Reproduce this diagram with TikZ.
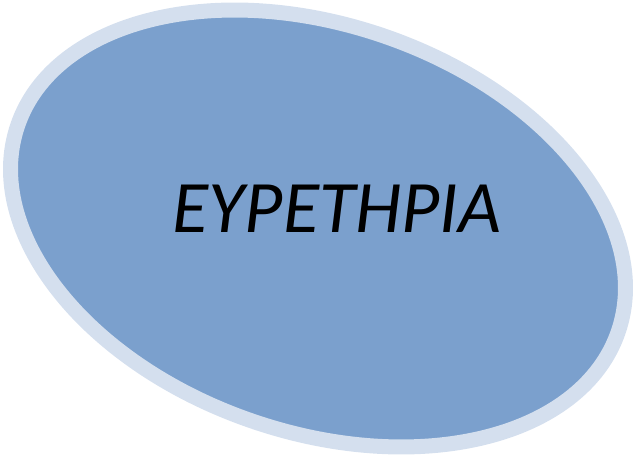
\documentclass[tikz,border=0pt]{standalone}
\usepackage{fontspec}
\setmainfont{Carlito}
\usepackage{tikz}
\usetikzlibrary{shapes.geometric}
\definecolor{myfill}{RGB}{123,160,205}
\definecolor{myrim}{RGB}{212,223,238}
\tikzset{
  blob/.style={ellipse, draw=myrim, fill=myfill, line width=15pt,
    minimum width=635pt, minimum height=407pt, inner sep=0pt},
  title/.style={font=\fontsize{74}{80}\selectfont\itshape, text=black,
    inner sep=0pt}
}
\begin{document}
\begin{tikzpicture}[x=1pt, y=1pt]
  \useasboundingbox (0,0) rectangle (633,455);
  % Tilted ellipse
  \node[blob, rotate=-19] (oval) at (318,226.5) {};
  % Label
  \node[title, anchor=base] (label) at (337,222) {ΕΥΡΕΤΗΡΙΑ};
\end{tikzpicture}
\end{document}
